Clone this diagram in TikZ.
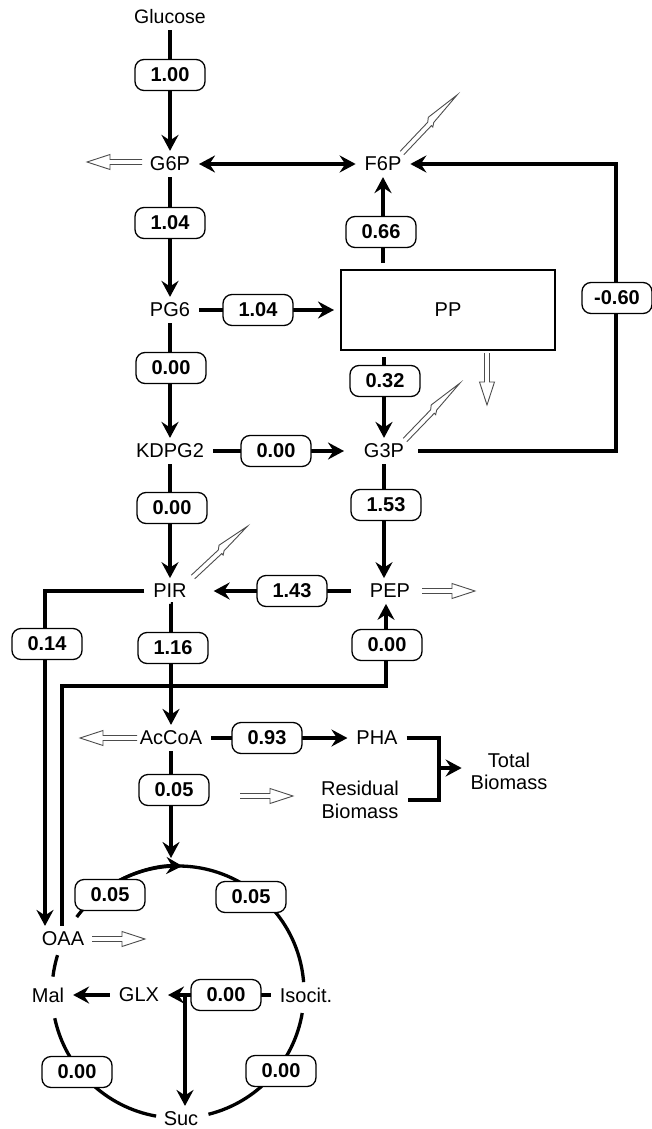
\documentclass[tikz,border=0pt]{standalone}
\usepackage{fontspec}
\setmainfont{Liberation Sans}
\usetikzlibrary{arrows.meta}
\begin{document}
\begin{tikzpicture}[x=1pt,y=1pt,
  met/.style={inner xsep=5pt, inner ysep=2pt, outer sep=4pt, font=\fontsize{20}{23}\selectfont},
  val/.style={draw, rounded corners=9pt, fill=white, line width=1.3pt, minimum width=70pt, minimum height=31pt, inner sep=0pt, font=\bfseries\fontsize{20}{24}\selectfont},
  ppbox/.style={draw, line width=1.3pt, minimum width=214pt, minimum height=80pt, outer sep=7pt, font=\fontsize{20}{23}\selectfont},
  flux/.style={line width=3.3pt},
  arr/.style={flux, -{Stealth[length=16pt,width=17pt,inset=5.5pt]}},
  darr/.style={flux, {Stealth[length=16pt,width=17pt,inset=5.5pt]}-{Stealth[length=16pt,width=17pt,inset=5.5pt]}},
  hol/.style={draw=black!70, line width=0.9pt, line join=miter},
  pics/hollow/.style={code={\draw[hol] (0,2.5) -- ({#1-23},2.5) -- ({#1-23},7.5) -- (#1,0) -- ({#1-23},-7.5) -- ({#1-23},-2.5) -- (0,-2.5);}},
  pics/hollowd/.style={code={\draw[hol] (0,2.5) -- ({#1*0.5},2.5) -- ({#1*0.55},5.5) -- (#1,0) -- ({#1*0.55},-2) -- ({#1*0.5},-4.5) -- ({#1*0.5},-2.5) -- (0,-2.5);}},
]
\useasboundingbox (0,0) rectangle (652,-1129);

% metabolites
\node[met, font=\fontsize{19.5}{23}\selectfont] (glu) at (170,-17) {Glucose};
\node[met] (g6p) at (170,-164) {G6P};
\node[met] (f6p) at (383,-164) {F6P};
\node[met] (pg6) at (170,-310) {PG6};
\node[ppbox] (pp) at (448,-310) {PP};
\node[met] (kdpg) at (170,-451) {KDPG2};
\node[met] (g3p) at (384,-451) {G3P};
\node[met] (pir) at (170,-591) {PIR};
\node[met] (pep) at (390,-591) {PEP};
\node[met] (acc) at (171,-738) {AcCoA};
\node[met] (pha) at (377,-738) {PHA};
\node[met, align=center] (res) at (360,-800) {Residual\\Biomass};
\node[met, align=center, font=\fontsize{20}{22}\selectfont] (tot) at (509,-771) {Total\\Biomass};
\node[met] (oaa) at (63,-939) {OAA};
\node[met] (mal) at (48,-995) {Mal};
\node[met] (glx) at (139,-995) {GLX};
\node[met] (iso) at (306,-995) {Isocit.};
\node[met] (suc) at (181,-1119) {Suc};

% helper coordinates
\coordinate (cyc) at (178,-992);
\coordinate (rc) at (616,-451);
\coordinate (lA) at (45,-591);
\coordinate (lB) at (62,-686);
\coordinate (lC) at (386,-686);
\coordinate (brk) at (439,-768);
\coordinate (cin) at (171,-858);
\coordinate (jn) at (185,-995);

% connectors
\draw[arr] (glu) -- (g6p);
\draw[darr] (g6p) -- (f6p);
\draw[arr] (g6p) -- (pg6);
\draw[arr] (pg6) -- (pp);
\draw[arr] (f6p |- pp.north) -- (f6p);
\draw[arr] (g3p |- pp.south) -- (g3p);
\draw[arr, shorten <=5pt] (g3p) -- (rc) |- (f6p);
\draw[arr] (pg6) -- (kdpg);
\draw[arr, shorten >=11pt] (kdpg) -- (g3p);
\draw[arr] (kdpg) -- (pir);
\draw[arr] (g3p) -- (g3p |- pep.north);
\draw[arr, shorten <=10pt, shorten >=18pt] (pep) -- (pir);
\draw[arr] (pir) -- (lA) -- (lA |- oaa.north);
\draw[arr] (lB |- oaa.north) -- (lB) -- (lC) -- (lC |- pep.south);
\draw[arr] (pir) -- (acc |- pir.south) -- (acc);
\draw[arr] (acc) -- (pha);
\draw[flux] (pha) -| (brk) |- (res);
\draw[arr] (brk) -- (brk -| tot.west);
\draw[arr] (acc) -- (cin);

% cycle
\draw[flux] (cyc) ++(4.5:126) arc[start angle=4.5, end angle=143.5, radius=126];
\draw[flux] (cyc) ++(163:126) arc[start angle=163, end angle=173, radius=126];
\draw[flux] (cyc) ++(192:126) arc[start angle=192, end angle=260, radius=126];
\draw[flux] (cyc) ++(284:126) arc[start angle=284, end angle=350.4, radius=126];
\draw[arr] (cyc) ++(120:126) arc[start angle=120, end angle=88, radius=126];
\draw[arr] (iso) -- (glx);
\draw[arr] (glx) -- (mal);
\draw[arr] (jn) -- (jn |- suc.north);

% flux values
\node[val] (v1) at (170,-75) {1.00};
\node[val] (v2) at (170,-223) {1.04};
\node[val] (v3) at (381,-232) {0.66};
\node[val] (v4) at (258,-310) {1.04};
\node[val] (v5) at (171,-368) {0.00};
\node[val] (v6) at (385,-381) {0.32};
\node[val] (v7) at (617,-298) {-0.60};
\node[val] (v8) at (276,-451) {0.00};
\node[val] (v9) at (172,-508) {0.00};
\node[val] (v10) at (386,-505) {1.53};
\node[val] (v11) at (292,-591) {1.43};
\node[val] (v12) at (47,-644) {0.14};
\node[val] (v13) at (173,-648) {1.16};
\node[val] (v14) at (387,-645) {0.00};
\node[val] (v15) at (267,-738) {0.93};
\node[val] (v16) at (174,-790) {0.05};
\node[val] (v17) at (110,-895) {0.05};
\node[val] (v18) at (251,-897) {0.05};
\node[val] (v19) at (226,-995) {0.00};
\node[val] (v20) at (77,-1072) {0.00};
\node[val] (v21) at (281,-1071) {0.00};

% outflow (hollow) arrows
\pic[rotate=180] at (142,-162) {hollow=55};
\pic[rotate=-90] at (487,-353) {hollow=52};
\pic at (422,-591) {hollow=53};
\pic[rotate=180] at (137,-738) {hollow=57};
\pic at (240,-796) {hollow=53};
\pic at (92,-939) {hollow=53};
\pic[rotate=46.5] at (402,-153) {hollowd=80};
\pic[rotate=46] at (405,-440) {hollowd=79};
\pic[rotate=43] at (193,-577) {hollowd=74};
\end{tikzpicture}
\end{document}
